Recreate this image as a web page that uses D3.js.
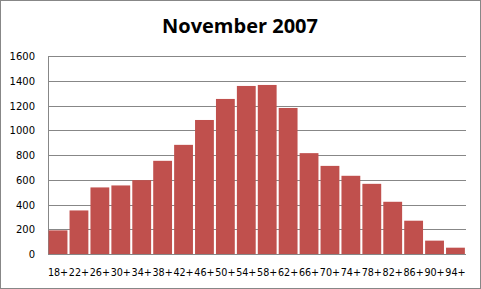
<!DOCTYPE html>
<html>
<head>
<meta charset="utf-8">
<script src="https://cdn.jsdelivr.net/npm/d3@7"></script>
<style>
  body { margin: 0; background: #fff; }
  svg { display: block; }
</style>
</head>
<body>
<div id="chart"></div>
<script>
// data
const ageGroups = ["18+", "22+", "26+", "30+", "34+", "38+", "42+", "46+", "50+", "54+",
                   "58+", "62+", "66+", "70+", "74+", "78+", "82+", "86+", "90+", "94+"];
const counts = [191, 352, 538, 554, 597, 753, 882, 1083, 1253, 1358,
                1366, 1180, 815, 712, 632, 567, 422, 269, 108, 51];
const yTicks = [0, 200, 400, 600, 800, 1000, 1200, 1400, 1600];

const width = 481;
const height = 289;
const margin = { top: 56, right: 15, bottom: 35, left: 48 };

const svg = d3.select("#chart")
    .append("svg")
    .attr("width", width)
    .attr("height", height);

// outer frame
svg.append("rect")
    .attr("x", 0.5).attr("y", 0.5)
    .attr("width", width - 1).attr("height", height - 1)
    .attr("fill", "#fff")
    .attr("stroke", "#878787");

svg.append("text")
    .attr("x", 240)
    .attr("y", 33)
    .attr("text-anchor", "middle")
    .style("font-family", "'Open Sans', sans-serif")
    .style("font-weight", "bold")
    .style("font-size", "20px")
    .text("November 2007");

const x = d3.scaleBand()
    .domain(ageGroups)
    .range([margin.left, width - margin.right - 0.5])
    .paddingInner(0.1)
    .paddingOuter(0.03);

const y = d3.scaleLinear()
    .domain([0, 1600])
    .range([height - margin.bottom, margin.top]);

// gridlines
svg.append("g")
    .selectAll("line")
    .data(yTicks)
    .enter()
    .append("line")
    .attr("x1", margin.left)
    .attr("x2", width - margin.right)
    .attr("y1", d => Math.round(y(d)) + 0.5)
    .attr("y2", d => Math.round(y(d)) + 0.5)
    .attr("stroke", "#878787");

// left axis line
svg.append("line")
    .attr("x1", margin.left + 0.5)
    .attr("x2", margin.left + 0.5)
    .attr("y1", Math.round(y(1600)) + 0.5)
    .attr("y2", Math.round(y(0)) + 0.5)
    .attr("stroke", "#878787");

svg.append("g")
    .selectAll("rect")
    .data(counts)
    .enter()
    .append("rect")
    .attr("x", (d, i) => x(ageGroups[i]))
    .attr("width", x.bandwidth())
    .attr("y", d => y(d))
    .attr("height", d => y(0) - y(d))
    .attr("fill", "#C0504D");

// y labels
svg.append("g")
    .selectAll("text")
    .data(yTicks)
    .enter()
    .append("text")
    .attr("x", 35)
    .attr("y", d => y(d) + 4)
    .attr("text-anchor", "end")
    .style("font-family", "'DejaVu Sans', sans-serif")
    .style("font-size", "10px")
    .text(d => d);

// x labels
svg.append("g")
    .selectAll("text")
    .data(ageGroups)
    .enter()
    .append("text")
    .attr("x", d => x(d) + x.bandwidth() / 2)
    .attr("y", 276)
    .attr("text-anchor", "middle")
    .style("font-family", "'DejaVu Sans', sans-serif")
    .style("font-size", "9.6px")
    .text(d => d);
</script>
</body>
</html>
